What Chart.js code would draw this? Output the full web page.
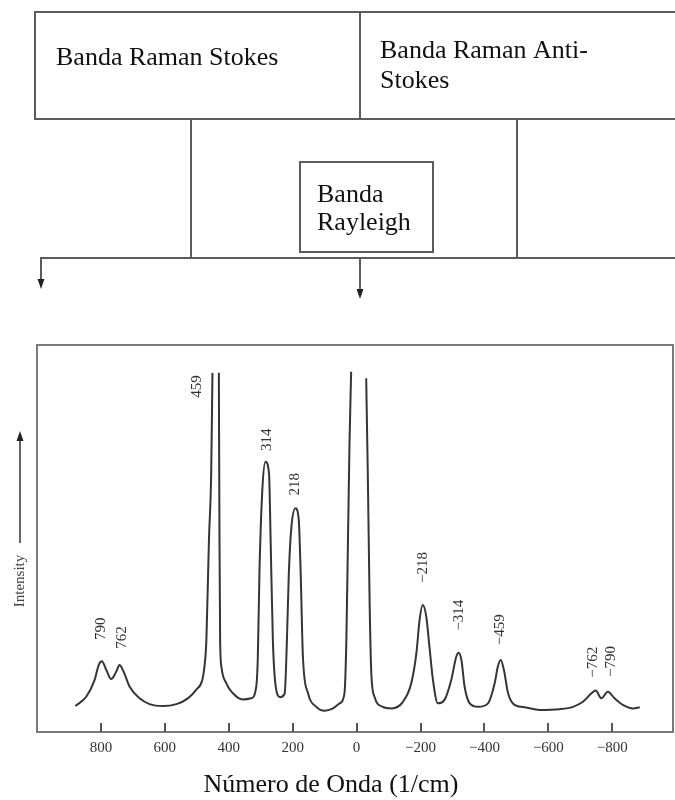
<!DOCTYPE html>
<html>
<head>
<meta charset="utf-8">
<script src="https://cdn.jsdelivr.net/npm/chart.js@4.4.1/dist/chart.umd.min.js"></script>
<style>
  html, body { margin: 0; padding: 0; background: #fff; }
  canvas { display: block; }
</style>
</head>
<body>
<canvas id="ramanChart" width="675" height="800"></canvas>
<script>
// Raman shift (1/cm) and intensity; null = clipped peak top
const ramanShift = [880, 846, 820, 807, 797, 783, 768, 752, 742, 729, 710, 679, 648, 606, 564, 528, 502, 483, 476, 470,
  462, 455, 451, 441, 431, 429, 427, 423, 408, 387, 356, 330, 314, 309, 304, 295, 285, 274, 269, 262,
  253, 239, 225, 218, 212, 204, 191, 181, 175, 168, 152, 126, 100, 74, 53, 38, 32, 27, 22, 17,
  -7, -30, -35, -41, -46, -56, -82, -109, -145, -171, -187, -197, -207, -218, -228, -239, -254, -275, -296, -312,
  -319, -328, -338, -354, -380, -411, -432, -442, -451, -461, -474, -494, -526, -573, -635, -677, -708, -735, -748, -766,
  -786, -807, -833, -865, -886];
const intensity = [6.7, 9.1, 13.4, 17.3, 18.3, 16.0, 13.7, 15.6, 17.3, 15.6, 11.7, 8.7, 7.2, 6.7, 7.2, 8.7, 10.9, 13.4, 16.9, 23.8,
  49.6, 66.8, 92.8, null, 92.8, 49.6, 23.8, 16.9, 12.6, 10.0, 8.4, 8.7, 11.7, 19.5, 41.1, 62.5, 69.8, 66.8, 49.6, 23.8,
  11.7, 9.0, 10.0, 23.8, 41.1, 53.0, 57.8, 54.8, 41.1, 19.5, 10.0, 6.5, 5.5, 6.1, 7.4, 10.0, 23.8, 49.6, 75.5, 93.1,
  null, 91.4, 66.9, 32.4, 15.2, 9.1, 6.5, 6.1, 7.8, 12.6, 20.3, 28.9, 32.8, 29.8, 22.0, 13.4, 7.4, 8.3, 13.4, 19.5,
  20.5, 18.6, 11.7, 7.4, 6.5, 7.4, 12.6, 16.9, 18.6, 16.0, 10.0, 7.0, 6.4, 5.7, 5.9, 6.5, 7.8, 10.0, 10.7, 8.7,
  10.4, 8.7, 7.0, 6.1, 6.4];

// peak annotations (text, shift, intensity at label centre)
const peakText = ["790", "762", "459", "314", "218", "−218", "−314", "−459", "−762", "−790"];
const peakShift = [801, 734, 498, 280, 191, -208, -322, -448, -740, -797];
const peakLevel = [26.7, 24.4, 89.3, 75.5, 64.0, 42.5, 30.2, 26.4, 18.0, 18.2];

const tickValues = [800, 600, 400, 200, 0, -200, -400, -600, -800];
const xTitle = "Número de Onda (1/cm)";

const serif = "'Liberation Serif', 'Times New Roman', serif";
const lineGray = "#5c5c5c";

const points = ramanShift.map((x, i) => ({ x: x, y: intensity[i] }));

// the band diagram above the plot plus frame, inner ticks, titles and peak labels
const decorPlugin = {
  id: "decor",
  afterDraw(chart) {
    const ctx = chart.ctx;
    const area = chart.chartArea;
    const xs = chart.scales.x;
    const ys = chart.scales.y;

    ctx.save();
    ctx.strokeStyle = lineGray;
    ctx.lineWidth = 2;

    // upper boxes
    ctx.beginPath();
    ctx.moveTo(35, 12); ctx.lineTo(675, 12);
    ctx.moveTo(35, 119); ctx.lineTo(675, 119);
    ctx.moveTo(35, 11); ctx.lineTo(35, 120);
    ctx.moveTo(360, 12); ctx.lineTo(360, 119);
    ctx.moveTo(191, 119); ctx.lineTo(191, 258);
    ctx.moveTo(517, 119); ctx.lineTo(517, 258);
    ctx.moveTo(40, 258); ctx.lineTo(675, 258);
    ctx.moveTo(41, 258); ctx.lineTo(41, 282);
    ctx.moveTo(360, 258); ctx.lineTo(360, 292);
    ctx.stroke();
    ctx.strokeRect(300, 162, 133, 90);

    ctx.fillStyle = "#222";
    [[41, 289], [360, 299]].forEach(([x, tip]) => {
      ctx.beginPath();
      ctx.moveTo(x - 3.5, tip - 10);
      ctx.lineTo(x + 3.5, tip - 10);
      ctx.lineTo(x, tip);
      ctx.closePath();
      ctx.fill();
    });

    ctx.fillStyle = "#111";
    ctx.font = "26px " + serif;
    ctx.textAlign = "left";
    ctx.textBaseline = "alphabetic";
    ctx.fillText("Banda Raman Stokes", 56, 65);
    ctx.fillText("Banda Raman Anti-", 380, 58);
    ctx.fillText("Stokes", 380, 88);
    ctx.fillText("Banda", 317, 202);
    ctx.fillText("Rayleigh", 317, 230);

    // x axis title (sits a little left of the plot centre in the source)
    ctx.textAlign = "center";
    ctx.fillText(xTitle, 331, 792);

    // plot frame
    ctx.strokeStyle = "#7a7a7a";
    ctx.strokeRect(area.left, area.top, area.right - area.left, area.bottom - area.top);

    // inward tick marks
    ctx.strokeStyle = "#555";
    ctx.beginPath();
    xs.ticks.forEach(t => {
      const px = Math.round(xs.getPixelForValue(t.value));
      ctx.moveTo(px, area.bottom);
      ctx.lineTo(px, area.bottom - 9);
    });
    ctx.stroke();

    // intensity arrow
    ctx.strokeStyle = "#666";
    ctx.beginPath();
    ctx.moveTo(20, 543); ctx.lineTo(20, 440);
    ctx.stroke();
    ctx.fillStyle = "#222";
    ctx.beginPath();
    ctx.moveTo(16.5, 441); ctx.lineTo(23.5, 441); ctx.lineTo(20, 431);
    ctx.closePath();
    ctx.fill();

    ctx.translate(20, 581);
    ctx.rotate(-Math.PI / 2);
    ctx.font = "15px " + serif;
    ctx.textAlign = "center";
    ctx.textBaseline = "middle";
    ctx.fillStyle = "#444";
    ctx.fillText("Intensity", 0, 0);
    ctx.restore();

    // peak labels, rotated
    ctx.save();
    ctx.font = "15px " + serif;
    ctx.fillStyle = "#333";
    ctx.textAlign = "center";
    ctx.textBaseline = "middle";
    peakText.forEach((txt, i) => {
      ctx.save();
      ctx.translate(xs.getPixelForValue(peakShift[i]), ys.getPixelForValue(peakLevel[i]));
      ctx.rotate(-Math.PI / 2);
      ctx.fillText(txt, 0, 0);
      ctx.restore();
    });
    ctx.restore();
  }
};

new Chart(document.getElementById("ramanChart"), {
  type: "scatter",
  data: {
    datasets: [{
      data: points,
      showLine: true,
      spanGaps: false,
      borderColor: "#353535",
      borderWidth: 2,
      pointRadius: 0,
      cubicInterpolationMode: "monotone",
      fill: false
    }]
  },
  options: {
    responsive: false,
    animation: false,
    devicePixelRatio: 1,
    layout: { padding: { left: 37, right: 2, top: 345, bottom: 0 } },
    plugins: { legend: { display: false }, tooltip: { enabled: false } },
    scales: {
      x: {
        type: "linear",
        reverse: true,
        min: -990,
        max: 1000,
        afterBuildTicks: s => { s.ticks = tickValues.map(v => ({ value: v })); },
        afterFit: s => { s.height = 68; },
        grid: { display: false, drawTicks: false },
        border: { display: false },
        ticks: {
          autoSkip: false,
          maxRotation: 0,
          padding: 7,
          color: "#333",
          font: { family: serif, size: 15 },
          callback: v => (v < 0 ? "−" + Math.abs(v) : String(v))
        },
        title: { display: false }
      },
      y: {
        display: false,
        min: 0,
        max: 100
      }
    }
  },
  plugins: [decorPlugin]
});
</script>
</body>
</html>
